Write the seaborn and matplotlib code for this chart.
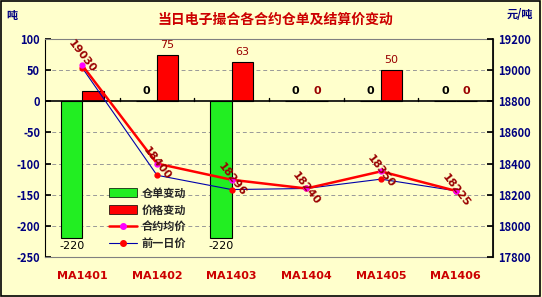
import numpy as np
import pandas as pd
import matplotlib
matplotlib.use("Agg")
import matplotlib.pyplot as plt
import seaborn as sns
from matplotlib.patches import Patch, Rectangle
from matplotlib.lines import Line2D

categories = ["MA1401", "MA1402", "MA1403", "MA1404", "MA1405", "MA1406"]
warrant_change = [-220, 0, -220, 0, 0, 0]
price_change = [16, 75, 63, 0, 50, 0]
avg_price = [19030, 18400, 18296, 18240, 18350, 18225]
prev_price = [19014, 18325, 18233, 18240, 18300, 18225]
series_names = ["仓单变动", "价格变动", "合约均价", "前一日价"]
title = "当日电子撮合各合约仓单及结算价变动"

sns.set_theme(style="white")
plt.rcParams['font.family'] = ['Noto Sans CJK SC', 'DejaVu Sans']
plt.rcParams['axes.unicode_minus'] = False

bg = "#FFFFCC"
navy = "#000080"
dred = "#990000"

fig = plt.figure(figsize=(5.42, 2.97), dpi=100, facecolor=bg)
ax = fig.add_axes([45/542, 1-257/297, 448/542, 218/297])
ax.set_facecolor(bg)

df = pd.DataFrame({
    "cat": categories * 2,
    "val": warrant_change + price_change,
    "series": [series_names[0]] * 6 + [series_names[1]] * 6,
})
sns.barplot(data=df, x="cat", y="val", hue="series",
            palette=["#22EE22", "#FF0000"], width=0.57,
            edgecolor="black", linewidth=0.8, ax=ax, legend=False,
            saturation=1)

ax.set_ylim(-250, 100)
ax.set_xlim(-0.5, 5.5)
ax.set_yticks(np.arange(-250, 101, 50))
ax.set_xticks([])
ax.set_xlabel("")
ax.set_ylabel("")
for y in np.arange(-200, 101, 50):
    if y != 0:
        ax.axhline(y, color="#999999", ls=(0, (4, 3)), lw=0.7, zorder=0)
ax.axhline(0, color="black", lw=1.2, zorder=1)
for b in np.arange(0.5, 5.5, 1):
    ax.plot([b, b], [0, 5], color="black", lw=1, zorder=1)
for s in ax.spines.values():
    s.set_color("#808080")
    s.set_linewidth(0.8)
ax.spines["left"].set_color("black")
ax.tick_params(axis="y", direction="in", length=4, colors="black",
               labelcolor=navy, labelsize=8, left=True)
for lab in ax.get_yticklabels():
    lab.set_fontweight("bold")

# bar labels
w = 0.57 / 2
for i in range(6):
    xg = i - w / 2
    xr = i + w / 2
    v = warrant_change[i]
    if v < 0:
        ax.text(xg, v - 4, f"{v}", ha="center", va="top", fontsize=8,
                color="black", family="DejaVu Sans")
    else:
        ax.text(xg, 8, "0", ha="center", va="bottom", fontsize=8,
                color="black", fontweight="bold", family="DejaVu Sans")
    p = price_change[i]
    if i == 0:
        continue
    ax.text(xr, p + 8 if p > 0 else 8, f"{p}", ha="center", va="bottom",
            fontsize=8, color=dred, fontweight="bold" if p == 0 else "normal",
            family="DejaVu Sans")

ax2 = ax.twinx()
ax2.set_ylim(17800, 19200)
ax2.set_yticks(np.arange(17800, 19201, 200))
x = np.arange(6)
ax2.plot(x, prev_price, color="#0000AA", lw=0.8, marker="o",
         markersize=3.5, markerfacecolor="#FF0000", markeredgecolor="#FF0000",
         zorder=3)
ax2.plot(x, avg_price, color="#FF0000", lw=1.8, marker="o",
         markersize=3.5, markerfacecolor="#FF00FF", markeredgecolor="#FF00FF",
         zorder=4)
for i in range(6):
    ax2.text(x[i], avg_price[i] + (60 if i == 0 else 0), f"{avg_price[i]}",
             rotation=-52, ha="center", va="center", fontsize=8,
             color=dred, fontweight="bold", family="DejaVu Sans",
             rotation_mode="anchor", zorder=5)
for s in ax2.spines.values():
    s.set_visible(False)
ax2.spines["right"].set_visible(True)
ax2.spines["right"].set_color("black")
ax2.tick_params(axis="y", direction="in", length=4, colors="black",
                labelcolor=navy, labelsize=8, right=True)
for lab in ax2.get_yticklabels():
    lab.set_fontweight("bold")
ax2.set_xlim(-0.5, 5.5)

# category labels
for i, c in enumerate(categories):
    fig.text((45 + 74.67 * (i + 0.5)) / 542, 1 - 276/297, c, ha="center",
             va="center", fontsize=8, color="#CC0000", fontweight="bold",
             family="DejaVu Sans")

handles = [Patch(facecolor="#22EE22", edgecolor="black", lw=0.5),
           Patch(facecolor="#FF0000", edgecolor="black", lw=0.5),
           Line2D([], [], color="#FF0000", lw=1.8, marker="o", markersize=4,
                  markerfacecolor="#FF00FF", markeredgecolor="#FF00FF"),
           Line2D([], [], color="#0000AA", lw=0.8, marker="o", markersize=4,
                  markerfacecolor="#FF0000", markeredgecolor="#FF0000")]
leg = ax2.legend(handles, series_names, loc="upper left",
                 bbox_to_anchor=(58/448, (257-181)/218), frameon=False,
                 fontsize=8, handlelength=2.6, handleheight=0.9,
                 labelspacing=0.35, borderpad=0, handletextpad=0.4)
for t in leg.get_texts():
    t.set_fontweight("bold")

fig.text(275/542, 1 - 20/297, title, ha="center", va="center", fontsize=10,
         color="#CC0000", fontweight="bold")
fig.text(12/542, 1 - 15/297, "吨", ha="center", va="center", fontsize=8,
         color=navy, fontweight="bold")
fig.text(520/542, 1 - 15/297, "元/吨", ha="center", va="center", fontsize=8,
         color=navy, fontweight="bold")
fig.patches.append(Rectangle((0.002, 0.003), 0.995, 0.994,
                             transform=fig.transFigure, fill=False,
                             edgecolor="black", lw=1.2))

fig.savefig("out.png", dpi=100, facecolor=bg)
